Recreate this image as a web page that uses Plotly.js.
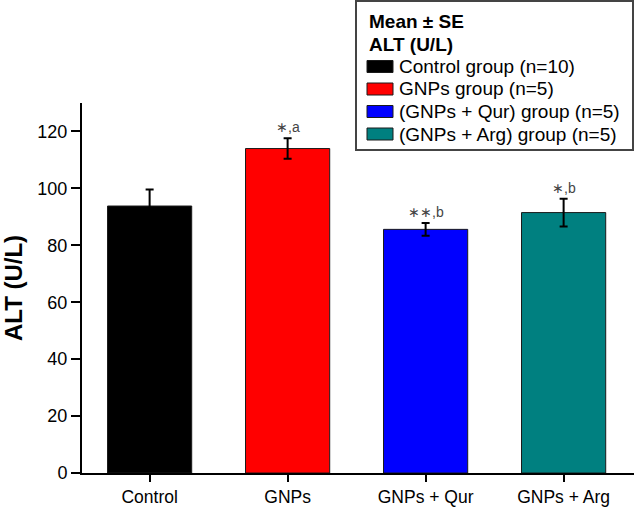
<!DOCTYPE html>
<html>
<head>
<meta charset="utf-8">
<script src="https://cdn.plot.ly/plotly-3.0.1.min.js"></script>
<style>html,body{margin:0;padding:0;background:#fff;}#chart{width:634px;height:507px;}</style>
</head>
<body>
<div id="chart"></div>
<script>
const categories = ["Control", "GNPs", "GNPs + Qur", "GNPs + Arg"];
const legendNames = ["Control group (n=10)", "GNPs group (n=5)", "(GNPs + Qur) group (n=5)", "(GNPs + Arg) group (n=5)"];
const legendTitle = ["Mean ± SE", "ALT (U/L)"];
const means = [93.8, 114.0, 85.6, 91.5];
const se = [5.8, 3.6, 2.2, 4.9];
const marks = ["", "\u2217,a", "\u2217\u2217,b", "\u2217,b"];
const colors = ["#000000", "#ff0000", "#0000ff", "#008080"];

const FONT = "Liberation Sans, Arial, sans-serif";
const W = 634, H = 507, M = {l: 82, r: 0, t: 103, b: 34};
const pw = W - M.l - M.r, ph = H - M.t - M.b;
const px = v => (v - M.l) / pw;       // pixel x -> paper x
const py = v => (H - M.b - v) / ph;   // pixel y -> paper y

const traces = categories.map((c, i) => ({
  type: "bar",
  x: [c],
  y: [means[i]],
  name: legendNames[i],
  marker: {color: colors[i], line: {color: "#1a1a1a", width: 1}},
  error_y: {type: "data", array: [se[i]], visible: true, color: "#000", thickness: 2, width: 4},
  hoverinfo: "skip",
  showlegend: false
}));

const annotations = categories.map((c, i) => ({
  x: c, y: means[i] + se[i], xref: "x", yref: "y",
  text: marks[i], showarrow: false, yanchor: "bottom", yshift: 1,
  font: {family: FONT, size: 14, color: "#444"}
})).filter(a => a.text);

// custom legend (box, swatches, texts)
const shapes = [{
  type: "rect", xref: "paper", yref: "paper",
  x0: px(356), x1: px(633), y0: py(150), y1: py(1),
  line: {color: "#444", width: 2}, fillcolor: "#fff", layer: "above"
}];
const legTop = 21.5, legStep = 22.5;
legendTitle.forEach((t, i) => annotations.push({
  xref: "paper", yref: "paper", x: px(367), y: py(legTop + i * legStep),
  xanchor: "left", yanchor: "middle", showarrow: false,
  text: "<b>" + t + "</b>", font: {family: FONT, size: 19, color: "#000"}
}));
legendNames.forEach((n, i) => {
  const cy = legTop + (i + 2) * legStep;
  shapes.push({
    type: "rect", xref: "paper", yref: "paper",
    x0: px(367), x1: px(393), y0: py(cy + 6), y1: py(cy - 6),
    fillcolor: colors[i], line: {color: "#1a1a1a", width: 1}, layer: "above"
  });
  annotations.push({
    xref: "paper", yref: "paper", x: px(397), y: py(cy),
    xanchor: "left", yanchor: "middle", showarrow: false,
    text: n, font: {family: FONT, size: 19, color: "#000"}
  });
});

const layout = {
  width: W, height: H,
  margin: M,
  paper_bgcolor: "#fff", plot_bgcolor: "#fff",
  font: {family: FONT, size: 18, color: "#000"},
  barmode: "overlay",
  bargap: 0.39,
  showlegend: false,
  xaxis: {
    type: "category", range: [-0.49, 3.51],
    showline: true, linecolor: "#000", linewidth: 2,
    ticks: "outside", ticklen: 7, tickwidth: 2, tickcolor: "#000",
    showgrid: false, zeroline: false,
    tickfont: {family: FONT, size: 17.5, color: "#000"}
  },
  yaxis: {
    range: [0, 130], tickvals: [0, 20, 40, 60, 80, 100, 120],
    showline: true, linecolor: "#000", linewidth: 2,
    ticks: "outside", ticklen: 9, tickwidth: 2, tickcolor: "#000",
    showgrid: false, zeroline: false,
    tickfont: {family: FONT, size: 18, color: "#000"},
    title: {text: "<b>ALT (U/L)</b>", font: {family: FONT, size: 24, color: "#000"}, standoff: 10}
  },
  shapes: shapes,
  annotations: annotations
};

Plotly.newPlot("chart", traces, layout, {displayModeBar: false, staticPlot: true});
</script>
</body>
</html>
